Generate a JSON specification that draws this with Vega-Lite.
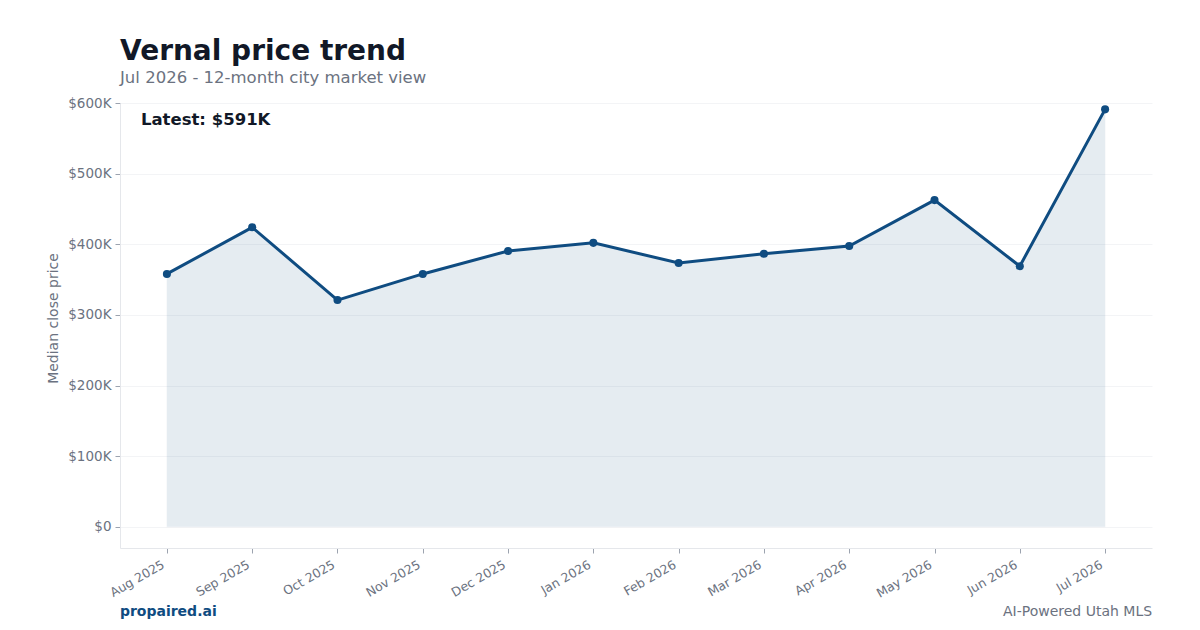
{
  "$schema": "https://vega.github.io/schema/vega-lite/v6.json",
  "autosize": {"type": "none"},
  "width": 1032,
  "height": 445,
  "padding": {"left": 120, "top": 103, "right": 48, "bottom": 82},
  "background": "#ffffff",
  "config": {
    "font": "DejaVu Sans",
    "view": {"stroke": null},
    "axis": {
      "labelColor": "#6b7280",
      "titleColor": "#6b7280",
      "domainColor": "#e5e7eb",
      "tickColor": "#9ca3af",
      "gridColor": "#f3f4f6",
      "labelFont": "DejaVu Sans",
      "titleFont": "DejaVu Sans"
    }
  },
  "title": {
    "text": "Vernal price trend",
    "subtitle": "Jul 2026 - 12-month city market view",
    "anchor": "start",
    "frame": "group",
    "fontSize": 28,
    "fontWeight": "bold",
    "color": "#111827",
    "subtitleFontSize": 16.5,
    "subtitleColor": "#6b7280",
    "subtitlePadding": 4,
    "offset": 10
  },
  "datasets": {
    "trend": [
      {"month": "Aug 2025", "price": 358000},
      {"month": "Sep 2025", "price": 424000},
      {"month": "Oct 2025", "price": 321000},
      {"month": "Nov 2025", "price": 358000},
      {"month": "Dec 2025", "price": 390500},
      {"month": "Jan 2026", "price": 402000},
      {"month": "Feb 2026", "price": 373500},
      {"month": "Mar 2026", "price": 386500},
      {"month": "Apr 2026", "price": 397500},
      {"month": "May 2026", "price": 462500},
      {"month": "Jun 2026", "price": 369000},
      {"month": "Jul 2026", "price": 591000}
    ],
    "notes": [
      {"label": "Latest: $591K", "anchor": "Aug 2025", "level": 576000},
      {"label": "propaired.ai", "anchor": "Aug 2025", "level": -120000},
      {"label": "AI-Powered Utah MLS", "anchor": "Jul 2026", "level": -120000}
    ]
  },
  "layer": [
    {
      "data": {"name": "trend"},
      "encoding": {
        "x": {
          "field": "month",
          "type": "ordinal",
          "sort": null,
          "scale": {"type": "point", "padding": 0.55},
          "axis": {
            "title": null,
            "labelAngle": -30,
            "labelAlign": "right",
            "labelBaseline": "top",
            "labelFontSize": 12.5,
            "labelPadding": 5,
            "labelOffset": -7,
            "tickSize": 5,
            "grid": false
          }
        },
        "y": {
          "field": "price",
          "type": "quantitative",
          "scale": {"domain": [-30000, 600000], "nice": false, "zero": false},
          "axis": {
            "title": "Median close price",
            "titleFontSize": 14,
            "titleFontWeight": "normal",
            "titlePadding": 7,
            "titleY": 215,
            "values": [0, 100000, 200000, 300000, 400000, 500000, 600000],
            "labelExpr": "datum.value == 0 ? '$0' : '$' + format(datum.value / 1000, ',') + 'K'",
            "labelFontSize": 13.5,
            "labelPadding": 4,
            "tickSize": 5,
            "grid": true
          }
        }
      },
      "layer": [
        {
          "mark": {"type": "area", "color": "#0f4c81", "opacity": 0.1, "stroke": "#0f4c81", "strokeOpacity": 0.5, "strokeWidth": 0.5},
          "encoding": {"y2": {"datum": 0}}
        },
        {"mark": {"type": "line", "color": "#0f4c81", "strokeWidth": 3}},
        {"mark": {"type": "point", "filled": true, "color": "#0f4c81", "size": 65, "opacity": 1}}
      ]
    },
    {
      "data": {"name": "notes"},
      "transform": [{"filter": "datum.label == 'Latest: $591K'"}],
      "mark": {"type": "text", "align": "left", "baseline": "middle", "dx": -26, "fontSize": 16.5, "fontWeight": "bold", "color": "#111827"},
      "encoding": {
        "x": {"field": "anchor", "type": "ordinal", "sort": null},
        "y": {"field": "level", "type": "quantitative"},
        "text": {"field": "label"}
      }
    },
    {
      "data": {"name": "notes"},
      "transform": [{"filter": "datum.label == 'propaired.ai'"}],
      "mark": {"type": "text", "align": "left", "baseline": "middle", "dx": -47, "fontSize": 14, "fontWeight": "bold", "color": "#0f4c81"},
      "encoding": {
        "x": {"field": "anchor", "type": "ordinal", "sort": null},
        "y": {"field": "level", "type": "quantitative"},
        "text": {"field": "label"}
      }
    },
    {
      "data": {"name": "notes"},
      "transform": [{"filter": "datum.label == 'AI-Powered Utah MLS'"}],
      "mark": {"type": "text", "align": "right", "baseline": "middle", "dx": 47, "fontSize": 14, "color": "#6b7280"},
      "encoding": {
        "x": {"field": "anchor", "type": "ordinal", "sort": null},
        "y": {"field": "level", "type": "quantitative"},
        "text": {"field": "label"}
      }
    }
  ]
}
